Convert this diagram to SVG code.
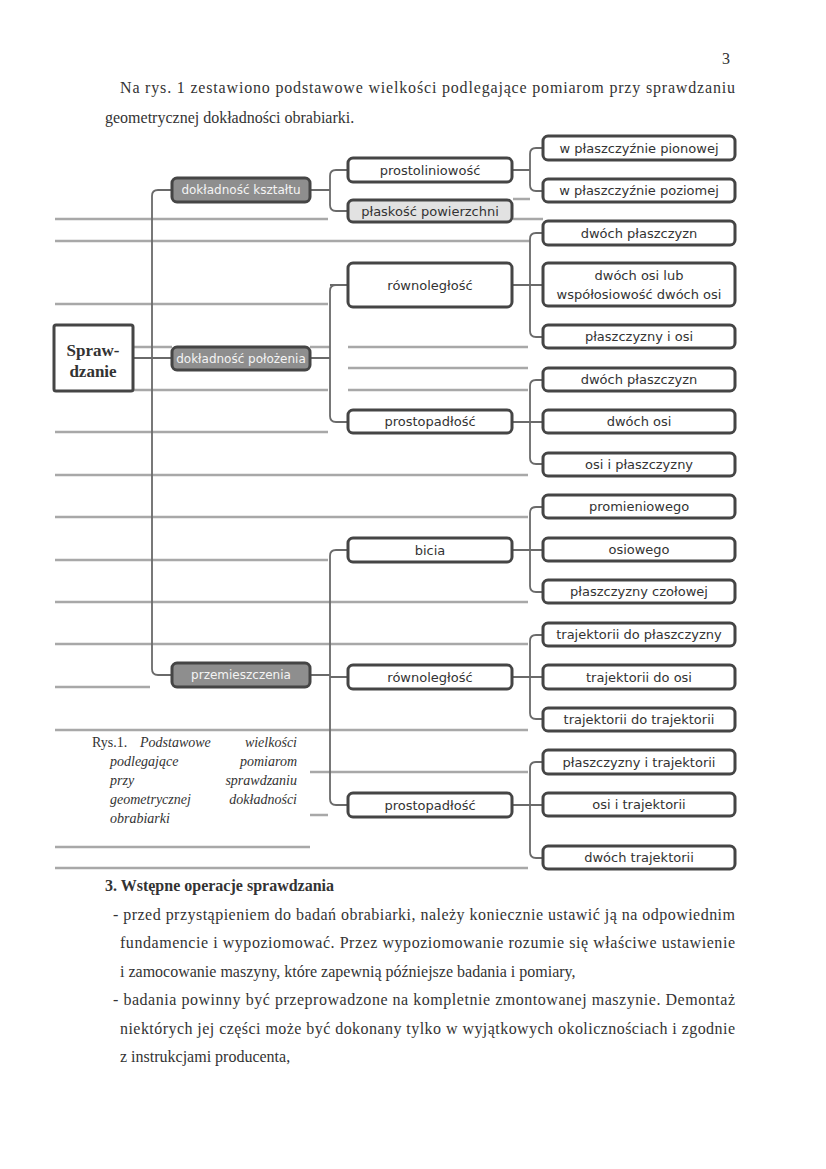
<svg xmlns="http://www.w3.org/2000/svg" width="826" height="1169" viewBox="0 0 826 1169">
<style>
.bg{fill:#fff}
.tl{stroke:#a8a8a8;stroke-width:2.5;fill:none}
.cn{stroke:#6a6a6a;stroke-width:1.8;fill:none}
.bx{fill:#fff;stroke:#454545;stroke-width:3}
.bx1{fill:#8e8e8e;stroke:#454545;stroke-width:3}
.bx2{fill:#e2e2e2;stroke:#454545;stroke-width:3}
.t{font-family:"DejaVu Sans",sans-serif;font-size:13px;fill:#333;text-anchor:middle}
.t1{font-family:"DejaVu Sans",sans-serif;font-size:12px;fill:#f4f4f4;text-anchor:middle}
.p{font-family:"Liberation Serif","Times New Roman",serif;font-size:16px;fill:#333}
.c{font-family:"Liberation Serif","Times New Roman",serif;font-size:14px;fill:#333;font-style:italic}
</style>
<rect class="bg" x="0" y="0" width="826" height="1169"/>

<g id="page-text">
<text class="p" x="722" y="64">3</text>
<text class="p" x="120" y="93" textLength="615" lengthAdjust="spacing">Na rys. 1 zestawiono podstawowe wielkości podlegające pomiarom przy sprawdzaniu</text>
<text class="p" x="105" y="123">geometrycznej dokładności obrabiarki.</text>
</g>

<g id="table-lines">
<path class="tl" d="M55,219 H328 M513,219 H543 M513,199 H530 M55,241 H530 M55,304 H328 M133,347 H172 M310,347 H330 M348,347 H528 M348,368 H528 M133,390 H328 M348,390 H528 M55,432 H328 M55,475 H528 M55,517 H528 M55,560 H328 M55,602 H528 M55,644 H528 M55,687 H150 M55,730 H528 M310,772 H528 M310,815 H328 M55,847 H310 M55,868 H528"/>
</g>

<g id="connectors">
<path class="cn" d="M133,358 H172"/>
<path class="cn" d="M172,190 H158 Q152,190 152,196 V669 Q152,675 158,675 H172"/>
<path class="cn" d="M310,190 H330 M348,170 H336 Q330,170 330,176 V205 Q330,211 336,211 H348"/>
<path class="cn" d="M512,170 H530 M543,148 H536 Q530,148 530,154 V185 Q530,191 536,191 H543"/>
<path class="cn" d="M310,358 H330 M330,285 H348 M348,285 H336 Q330,285 330,291 V416 Q330,422 336,422 H348"/>
<path class="cn" d="M512,285 H543 M543,233 H536 Q530,233 530,239 V331 Q530,337 536,337 H543"/>
<path class="cn" d="M512,422 H543 M543,380 H536 Q530,380 530,386 V458 Q530,464 536,464 H543"/>
<path class="cn" d="M310,675 H330 M330,677 H348 M348,550 H336 Q330,550 330,556 V799 Q330,805 336,805 H348"/>
<path class="cn" d="M512,550 H543 M543,507 H536 Q530,507 530,513 V586 Q530,592 536,592 H543"/>
<path class="cn" d="M512,677 H543 M543,635 H536 Q530,635 530,641 V713 Q530,719 536,719 H543"/>
<path class="cn" d="M512,805 H543 M543,762 H536 Q530,762 530,768 V852 Q530,858 536,858 H543"/>
</g>

<g id="n-root">
<rect x="54" y="325" width="79" height="66" fill="#fff" stroke="#454545" stroke-width="3" rx="2"/>
<text x="93" y="356" font-family="Liberation Serif,serif" font-weight="bold" font-size="17" fill="#333" text-anchor="middle">Spraw-</text>
<text x="93" y="377" font-family="Liberation Serif,serif" font-weight="bold" font-size="17" fill="#333" text-anchor="middle">dzanie</text>
</g>

<g id="n-ksztaltu"><rect class="bx1" x="172" y="178" width="138" height="24" rx="5"/><text class="t1" x="241" y="194">dokładność kształtu</text></g>
<g id="n-polozenia"><rect class="bx1" x="172" y="347" width="138" height="23" rx="5"/><text class="t1" x="241" y="363">dokładność położenia</text></g>
<g id="n-przemieszczenia"><rect class="bx1" x="172" y="663" width="138" height="24" rx="5"/><text class="t1" x="241" y="679">przemieszczenia</text></g>

<g id="n-prostoliniowosc"><rect class="bx" x="348" y="158" width="164" height="24" rx="5"/><text class="t" x="430" y="175">prostoliniowość</text></g>
<g id="n-plaskosc"><rect class="bx2" x="348" y="200" width="164" height="22" rx="5"/><text class="t" x="430" y="216">płaskość powierzchni</text></g>
<g id="n-rownoleglosc1"><rect class="bx" x="348" y="263" width="164" height="44" rx="5"/><text class="t" x="430" y="290">równoległość</text></g>
<g id="n-prostopadlosc1"><rect class="bx" x="348" y="410" width="164" height="23" rx="5"/><text class="t" x="430" y="426">prostopadłość</text></g>
<g id="n-bicia"><rect class="bx" x="348" y="538" width="164" height="24" rx="5"/><text class="t" x="430" y="555">bicia</text></g>
<g id="n-rownoleglosc2"><rect class="bx" x="348" y="665" width="164" height="24" rx="5"/><text class="t" x="430" y="682">równoległość</text></g>
<g id="n-prostopadlosc2"><rect class="bx" x="348" y="793" width="164" height="24" rx="5"/><text class="t" x="430" y="810">prostopadłość</text></g>

<g id="n-pionowej"><rect class="bx" x="543" y="136" width="192" height="24" rx="5"/><text class="t" x="639" y="153">w płaszczyźnie pionowej</text></g>
<g id="n-poziomej"><rect class="bx" x="543" y="179" width="192" height="23" rx="5"/><text class="t" x="639" y="195">w płaszczyźnie poziomej</text></g>
<g id="n-r-dwoch-plaszczyzn"><rect class="bx" x="543" y="221" width="192" height="24" rx="5"/><text class="t" x="639" y="238">dwóch płaszczyzn</text></g>
<g id="n-r-dwoch-osi"><rect class="bx" x="543" y="263" width="192" height="43" rx="5"/><text class="t" x="639" y="280">dwóch osi lub</text><text class="t" x="639" y="299">współosiowość dwóch osi</text></g>
<g id="n-r-plaszczyzny-osi"><rect class="bx" x="543" y="325" width="192" height="23" rx="5"/><text class="t" x="639" y="341">płaszczyzny i osi</text></g>
<g id="n-p-dwoch-plaszczyzn"><rect class="bx" x="543" y="368" width="192" height="23" rx="5"/><text class="t" x="639" y="384">dwóch płaszczyzn</text></g>
<g id="n-p-dwoch-osi"><rect class="bx" x="543" y="410" width="192" height="23" rx="5"/><text class="t" x="639" y="426">dwóch osi</text></g>
<g id="n-p-osi-plaszczyzny"><rect class="bx" x="543" y="453" width="192" height="23" rx="5"/><text class="t" x="639" y="469">osi i płaszczyzny</text></g>
<g id="n-promieniowego"><rect class="bx" x="543" y="495" width="192" height="23" rx="5"/><text class="t" x="639" y="511">promieniowego</text></g>
<g id="n-osiowego"><rect class="bx" x="543" y="538" width="192" height="23" rx="5"/><text class="t" x="639" y="554">osiowego</text></g>
<g id="n-czolowej"><rect class="bx" x="543" y="580" width="192" height="23" rx="5"/><text class="t" x="639" y="596">płaszczyzny czołowej</text></g>
<g id="n-traj-plaszczyzny"><rect class="bx" x="543" y="623" width="192" height="23" rx="5"/><text class="t" x="639" y="639">trajektorii do płaszczyzny</text></g>
<g id="n-traj-osi"><rect class="bx" x="543" y="665" width="192" height="24" rx="5"/><text class="t" x="639" y="682">trajektorii do osi</text></g>
<g id="n-traj-traj"><rect class="bx" x="543" y="708" width="192" height="23" rx="5"/><text class="t" x="639" y="724">trajektorii do trajektorii</text></g>
<g id="n-plaszczyzny-traj"><rect class="bx" x="543" y="750" width="192" height="24" rx="5"/><text class="t" x="639" y="767">płaszczyzny i trajektorii</text></g>
<g id="n-osi-traj"><rect class="bx" x="543" y="793" width="192" height="23" rx="5"/><text class="t" x="639" y="809">osi i trajektorii</text></g>
<g id="n-dwoch-traj"><rect class="bx" x="543" y="846" width="192" height="23" rx="5"/><text class="t" x="639" y="862">dwóch trajektorii</text></g>

<g id="caption">
<text class="c" x="92" y="747"><tspan font-style="normal">Rys.1.</tspan></text>
<text class="c" x="140" y="747">Podstawowe</text>
<text class="c" x="297" y="747" text-anchor="end">wielkości</text>
<text class="c" x="110" y="766">podlegające</text>
<text class="c" x="297" y="766" text-anchor="end">pomiarom</text>
<text class="c" x="110" y="785">przy</text>
<text class="c" x="297" y="785" text-anchor="end">sprawdzaniu</text>
<text class="c" x="110" y="804">geometrycznej</text>
<text class="c" x="297" y="804" text-anchor="end">dokładności</text>
<text class="c" x="110" y="823">obrabiarki</text>
</g>

<g id="body-text">
<text class="p" x="105" y="891" font-weight="bold">3. Wstępne operacje sprawdzania</text>
<text class="p" x="113" y="920" textLength="622" lengthAdjust="spacing">- przed przystąpieniem do badań obrabiarki, należy koniecznie ustawić ją na odpowiednim</text>
<text class="p" x="120" y="948" textLength="615" lengthAdjust="spacing">fundamencie i wypoziomować. Przez wypoziomowanie rozumie się właściwe ustawienie</text>
<text class="p" x="120" y="977">i zamocowanie maszyny, które zapewnią późniejsze badania i pomiary,</text>
<text class="p" x="113" y="1005" textLength="622" lengthAdjust="spacing">- badania powinny być przeprowadzone na kompletnie zmontowanej maszynie. Demontaż</text>
<text class="p" x="120" y="1034" textLength="615" lengthAdjust="spacing">niektórych jej części może być dokonany tylko w wyjątkowych okolicznościach i zgodnie</text>
<text class="p" x="120" y="1062">z instrukcjami producenta,</text>
</g>
</svg>
